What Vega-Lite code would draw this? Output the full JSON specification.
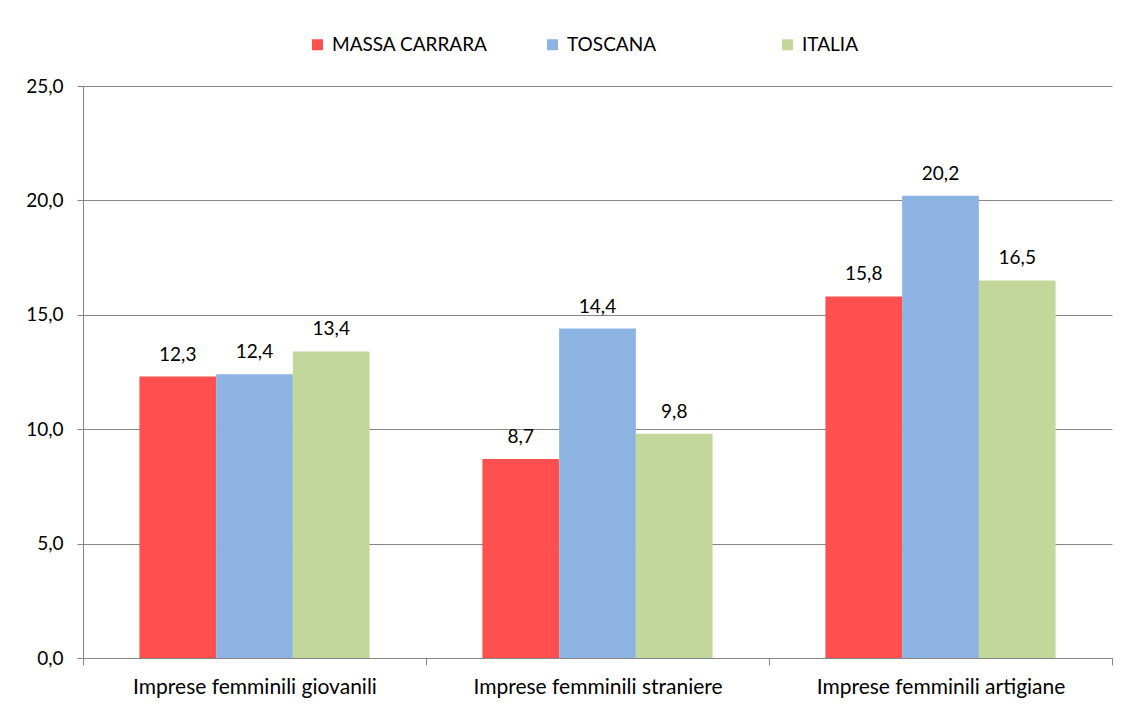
{
  "$schema": "https://vega.github.io/schema/vega-lite/v6.json",
  "width": 1029,
  "height": 572,
  "autosize": {"type": "none"},
  "padding": {"left": 83, "top": 86, "right": 15, "bottom": 48},
  "background": "white",
  "config": {
    "view": {"stroke": null},
    "font": "Lato",
    "locale": {"number": {"decimal": ",", "thousands": ".", "grouping": [3], "currency": ["", " €"]}}
  },
  "data": {
    "values": [
      {"categoria": "Imprese femminili giovanili", "area": "MASSA CARRARA", "valore": 12.3},
      {"categoria": "Imprese femminili giovanili", "area": "TOSCANA", "valore": 12.4},
      {"categoria": "Imprese femminili giovanili", "area": "ITALIA", "valore": 13.4},
      {"categoria": "Imprese femminili straniere", "area": "MASSA CARRARA", "valore": 8.7},
      {"categoria": "Imprese femminili straniere", "area": "TOSCANA", "valore": 14.4},
      {"categoria": "Imprese femminili straniere", "area": "ITALIA", "valore": 9.8},
      {"categoria": "Imprese femminili artigiane", "area": "MASSA CARRARA", "valore": 15.8},
      {"categoria": "Imprese femminili artigiane", "area": "TOSCANA", "valore": 20.2},
      {"categoria": "Imprese femminili artigiane", "area": "ITALIA", "valore": 16.5}
    ]
  },
  "encoding": {
    "x": {
      "field": "categoria", "type": "nominal",
      "sort": ["Imprese femminili giovanili", "Imprese femminili straniere", "Imprese femminili artigiane"],
      "scale": {"paddingInner": 0, "paddingOuter": 0},
      "axis": {
        "title": null, "labelAngle": 0, "tickBand": "extent", "tickSize": 7,
        "domainColor": "#868686", "tickColor": "#868686", "labelPadding": 11, "labelLimit": 0,
        "labelFontSize": 21, "labelColor": "#000000", "labelFont": "Lato", "labelFontWeight": "normal"
      }
    },
    "xOffset": {
      "field": "area", "type": "nominal",
      "sort": ["MASSA CARRARA", "TOSCANA", "ITALIA"],
      "scale": {"paddingInner": 0, "paddingOuter": 0.735}
    },
    "y": {
      "field": "valore", "type": "quantitative",
      "scale": {"domain": [0, 25], "nice": false},
      "axis": {
        "title": null, "values": [0, 5, 10, 15, 20, 25], "format": ".1f",
        "grid": true, "gridColor": "#868686", "domainColor": "#868686", "tickColor": "#868686",
        "tickSize": 6, "labelPadding": 14, "labelFontSize": 19, "labelColor": "#000000", "labelFont": "Lato"
      }
    }
  },
  "layer": [
    {
      "mark": {"type": "bar"},
      "encoding": {
        "color": {
          "field": "area", "type": "nominal",
          "sort": ["MASSA CARRARA", "TOSCANA", "ITALIA"],
          "scale": {"domain": ["MASSA CARRARA", "TOSCANA", "ITALIA"], "range": ["#FF4F4F", "#8DB3E2", "#C4D79B"]},
          "legend": {
            "title": null, "orient": "none", "legendX": 225, "legendY": -51, "direction": "horizontal",
            "symbolType": "square", "symbolSize": 121, "symbolStrokeWidth": 0, "labelFontSize": 19, "labelFont": "Lato",
            "labelColor": "#000000", "gridAlign": "all", "columnPadding": 55, "labelOffset": 5
          }
        }
      }
    },
    {
      "mark": {"type": "text", "dy": -22, "fontSize": 19, "font": "Lato", "color": "#000000", "baseline": "middle"},
      "encoding": {
        "text": {"field": "valore", "type": "quantitative", "format": ".1f"}
      }
    }
  ]
}
